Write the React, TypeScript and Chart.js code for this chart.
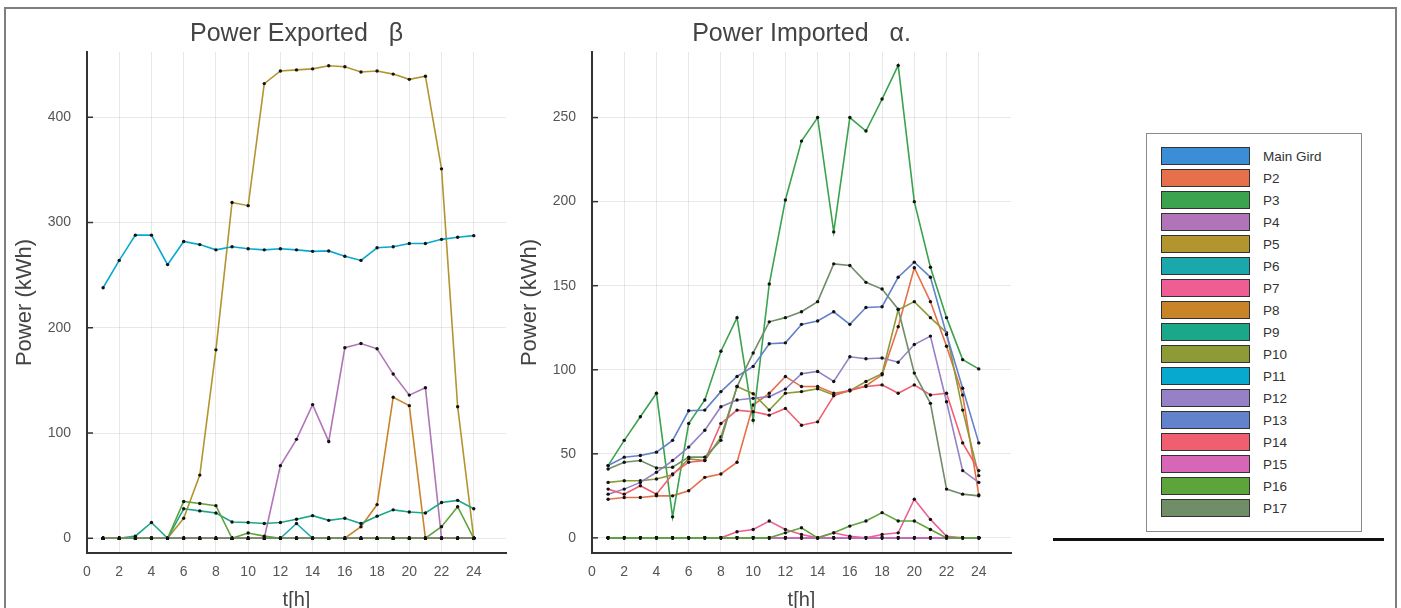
import React, { useEffect, useRef } from 'react';
import { Chart, registerables } from 'chart.js';

Chart.register(...registerables);

const hours = [1, 2, 3, 4, 5, 6, 7, 8, 9, 10, 11, 12, 13, 14, 15, 16, 17, 18, 19, 20, 21, 22, 23, 24];
const xTickValues = [0, 2, 4, 6, 8, 10, 12, 14, 16, 18, 20, 22, 24];
const exportYTicks = [0, 100, 200, 300, 400];
const importYTicks = [0, 50, 100, 150, 200, 250];

const seriesNames = ['Main Gird', 'P2', 'P3', 'P4', 'P5', 'P6', 'P7', 'P8', 'P9', 'P10', 'P11', 'P12', 'P13', 'P14', 'P15', 'P16', 'P17'];
const seriesColors = [
  '#3b8ed5', '#e6704a', '#3ba34d', '#b274b9', '#b3952f', '#1ba8ad', '#ee5e95', '#c98428', '#1aa889',
  '#8d9a35', '#08a9cf', '#9680c6', '#6282cc', '#ef5f6f', '#d866b6', '#5da53a', '#6f8d67',
];

const zeroDay = [0, 0, 0, 0, 0, 0, 0, 0, 0, 0, 0, 0, 0, 0, 0, 0, 0, 0, 0, 0, 0, 0, 0, 0];

// Power exported (beta)
const expP4 = [0, 0, 0, 0, 0, 0, 0, 0, 0, 0, 0, 69, 94, 127, 92, 181, 185, 180, 156, 136, 143, 0, 0, 0];
const expP5 = [0, 0, 0, 0, 0, 19, 60, 179, 319, 316, 432, 444, 445, 446, 449, 448, 443, 444, 441, 436, 439, 351, 125, 0];
const expP6 = [0, 0, 0, 0, 0, 0, 0, 0, 0, 0, 0, 0, 14, 0, 0, 0, 0, 0, 0, 0, 0, 0, 0, 0];
const expP8 = [0, 0, 0, 0, 0, 0, 0, 0, 0, 0, 0, 0, 0, 0, 0, 0, 11, 32, 134, 126, 0, 0, 0, 0];
const expP9 = [0, 0, 2, 15, 0, 28, 26, 24, 15.5, 15, 14, 15, 18, 21.5, 17, 19, 14, 21, 27, 25, 24, 34, 36, 28];
const expP11 = [238, 264, 288, 288, 260, 282, 279, 274, 277, 275, 274, 275, 274, 272.6, 273, 268, 264, 276, 277, 280, 280, 284, 286, 287.5];
const expP16 = [0, 0, 0, 0, 0, 35, 33, 31, 0, 5, 2, 0, 0, 0, 0, 0, 0, 0, 0, 0, 0, 11, 30, 0];

// Power imported (alpha)
const impP2 = [23, 24, 24, 25, 25, 28, 36, 38, 45, 79, 86, 96, 90, 90, 86, 87.5, 90.5, 97, 125.6, 160.7, 140.5, 114, 85, 25.6];
const impP3 = [43, 58, 72, 86, 12.5, 68, 82, 111, 131, 70, 151, 201, 236, 250, 182, 250, 242, 261, 281, 200, 161, 131, 106, 100.5];
const impP7 = [0, 0, 0, 0, 0, 0, 0, 0, 3.6, 5, 10, 5, 2, 0, 3, 1, 0, 2, 3, 23, 11, 1, 0, 0];
const impP10 = [33, 34, 34, 35, 37.5, 47, 46, 60, 90, 85.7, 76, 86, 87, 88.7, 85, 87.5, 93, 97.6, 135.7, 140.5, 131, 122, 76, 37];
const impP12 = [26, 29, 33, 39, 46, 54, 64, 78, 82, 83, 84, 88.5, 97.6, 99, 93, 107.7, 106.5, 107, 104.5, 115, 120, 81, 40, 33];
const impP13 = [43, 48, 49, 51, 58, 75.6, 76, 87, 96, 102, 115.5, 116, 127, 129, 134.5, 127, 137, 137.5, 155, 164, 155, 121, 89, 56.5];
const impP14 = [29, 26, 31, 26, 38, 45, 46, 68, 76, 75, 73, 77, 67, 69, 84.5, 88, 90, 91, 86, 91, 85, 86, 56.5, 40];
const impP16 = [0, 0, 0, 0, 0, 0, 0, 0, 0, 0, 0, 3, 6, 0, 3, 7, 10, 15, 10, 10, 5, 0, 0, 0];
const impP17 = [41, 45, 46, 41.6, 42, 48, 48, 58, 90, 110, 128.5, 131, 134.5, 140.5, 163, 162, 152, 148, 136, 98, 80, 29, 26, 25];

const exportSeries: Record<string, number[]> = {
  P4: expP4, P5: expP5, P6: expP6, P8: expP8, P9: expP9, P11: expP11, P16: expP16,
};
const importSeries: Record<string, number[]> = {
  P2: impP2, P3: impP3, P7: impP7, P10: impP10, P12: impP12, P13: impP13, P14: impP14, P16: impP16, P17: impP17,
};

const FONT = "'Liberation Sans', Arial, Helvetica, sans-serif";

const innerTicksPlugin = {
  id: 'innerTicks',
  afterDraw(chart: any) {
    const { ctx, chartArea, scales } = chart;
    const y = scales.y;
    ctx.save();
    ctx.strokeStyle = '#333';
    ctx.lineWidth = 1.5;
    y.ticks.forEach((t: any) => {
      const py = y.getPixelForValue(t.value);
      ctx.beginPath();
      ctx.moveTo(chartArea.left, py);
      ctx.lineTo(chartArea.left + 6, py);
      ctx.stroke();
    });
    ctx.restore();
  },
};

function LineChart(props: { title: string; series: Record<string, number[]>; yMin: number; yMax: number; yTicks: number[] }) {
  const ref = useRef<HTMLCanvasElement>(null);
  useEffect(() => {
    const { title, series, yMin, yMax, yTicks } = props;
    const datasets = seriesNames.map((name, i) => {
      const vals = series[name] || zeroDay;
      return {
        label: name,
        data: hours.map((h, k) => ({ x: h, y: vals[k] })),
        borderColor: seriesColors[i],
        backgroundColor: seriesColors[i],
        borderWidth: 1.6,
        pointRadius: 1.7,
        pointBorderWidth: 0,
        pointBackgroundColor: '#111',
        tension: 0,
        fill: false,
        order: 100 - i,
      };
    });
    const chart = new Chart(ref.current as HTMLCanvasElement, {
      type: 'line',
      data: { datasets } as any,
      plugins: [innerTicksPlugin],
      options: {
        animation: false,
        responsive: false,
        devicePixelRatio: 1,
        layout: { padding: { left: 0, right: 14, top: 0, bottom: 0 } },
        plugins: {
          legend: { display: false },
          tooltip: { enabled: false },
          title: {
            display: true,
            fullSize: false,
            text: title,
            color: '#444',
            font: { family: FONT, size: 25, weight: 'normal', lineHeight: 1.2 },
            padding: { top: 19, bottom: 3 },
          },
        },
        scales: {
          x: {
            type: 'linear',
            min: 0,
            max: 26,
            afterBuildTicks: (s: any) => { s.ticks = xTickValues.map((v) => ({ value: v })); },
            afterFit: (s: any) => { s.height = 55; },
            grid: { color: 'rgba(0,0,0,0.09)', lineWidth: 1, drawTicks: false },
            border: { display: true, color: '#333', width: 2 },
            ticks: { color: '#555', padding: 11, font: { family: FONT, size: 14 }, maxRotation: 0, autoSkip: false },
            title: { display: true, text: 't[h]', color: '#444', font: { family: FONT, size: 20, lineHeight: 1 }, padding: { top: 0, bottom: -2 } },
          },
          y: {
            type: 'linear',
            min: yMin,
            max: yMax,
            afterBuildTicks: (s: any) => { s.ticks = yTicks.map((v) => ({ value: v })); },
            afterFit: (s: any) => { s.width = 87; },
            grid: { color: 'rgba(0,0,0,0.09)', lineWidth: 1, drawTicks: false },
            border: { display: true, color: '#333', width: 2 },
            ticks: { color: '#555', padding: 16, font: { family: FONT, size: 14 }, autoSkip: false },
            title: { display: true, text: 'Power (kWh)', color: '#444', font: { family: FONT, size: 22, lineHeight: 1.2 }, padding: { top: 12, bottom: 0 } },
          },
        },
      } as any,
    });
    return () => chart.destroy();
  }, []);
  return <canvas ref={ref} width={520} height={608} style={{ display: 'block', width: 520, height: 608 }} />;
}

function Legend() {
  return (
    <div style={{ position: 'absolute', left: 1146, top: 133, width: 216, height: 399, border: '1.5px solid #8a8a8a', boxSizing: 'border-box', background: '#fff' }}>
      {seriesNames.map((name, i) => (
        <div key={name} style={{ position: 'absolute', left: 14, top: 13 + i * 22, height: 18, display: 'flex', alignItems: 'center' }}>
          <div style={{ width: 89, height: 18, boxSizing: 'border-box', border: '1.5px solid #333', background: seriesColors[i] }} />
          <span style={{ marginLeft: 13, fontFamily: FONT, fontSize: 13.5, color: '#333', whiteSpace: 'nowrap' }}>{name}</span>
        </div>
      ))}
    </div>
  );
}

export default function App() {
  return (
    <div style={{ position: 'fixed', left: 0, top: 0, width: 1401, height: 608, overflow: 'hidden', background: '#fff' }}>
      <div style={{ position: 'absolute', left: 0, top: 0 }}>
        <LineChart title={'Power Exported   \u03B2'} series={exportSeries} yMin={-14} yMax={462} yTicks={exportYTicks} />
      </div>
      <div style={{ position: 'absolute', left: 505, top: 0 }}>
        <LineChart title={'Power Imported   \u03B1.'} series={importSeries} yMin={-9} yMax={289} yTicks={importYTicks} />
      </div>
      <Legend />
      <div style={{ position: 'absolute', left: 1053, top: 538, width: 331, height: 3, background: '#111' }} />
      <div style={{ position: 'absolute', left: 4, top: 7, width: 1393, height: 640, border: '2px solid #7f7f7f', boxSizing: 'border-box' }} />
    </div>
  );
}
